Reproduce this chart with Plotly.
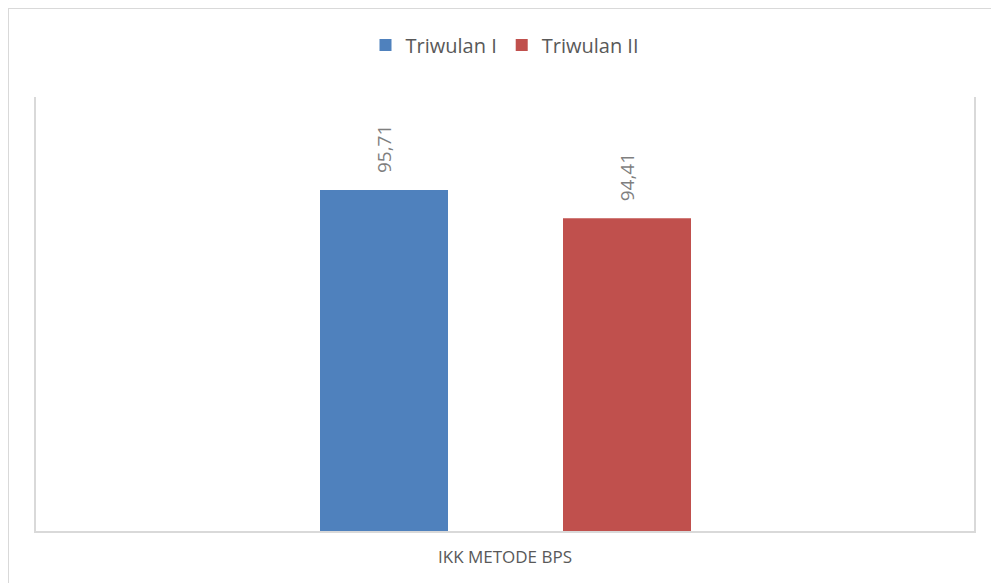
import plotly.graph_objects as go

categories = ["IKK METODE BPS"]
series_names = ["Triwulan I", "Triwulan II"]
values_t1 = [95.71]
values_t2 = [94.41]
labels_t1 = ["95,71"]
labels_t2 = ["94,41"]
colors = ["#4f81bd", "#c0504d"]

# page has an 8px body margin; figure is sized to fit inside the window
W, H = 991, 575
ML, MR, MT, MB = 28, 25, 89, 52
pw = W - ML - MR
ph = H - MT - MB

bar_w = 128 / pw
offsets = [(312 - 497) / pw, (555 - 497) / pw]

fig = go.Figure()
for name, vals, labs, col, off in zip(series_names, [values_t1, values_t2], [labels_t1, labels_t2], colors, offsets):
    fig.add_trace(go.Bar(
        name=name, x=categories, y=vals, marker=dict(color=col, line=dict(width=0)),
        width=bar_w, offset=off, hoverinfo="skip"))
    for c, v, t in zip(categories, vals, labs):
        fig.add_annotation(
            x=c, y=v, text=t, textangle=-90, showarrow=False,
            xref="x", yref="y", xshift=(off + bar_w / 2) * pw, yshift=15,
            yanchor="bottom", font=dict(family="Open Sans", size=19, color="#7f7f7f"))

grey = "#d9d9d9"
fig.update_layout(
    width=W, height=H,
    margin=dict(l=ML, r=MR, t=MT, b=MB),
    paper_bgcolor="white", plot_bgcolor="white",
    barmode="group",
    font=dict(family="Open Sans", color="#595959"),
    legend=dict(orientation="h", x=0.5, xanchor="center", y=(ph + MT - 37) / ph, yanchor="middle",
                font=dict(size=20, color="#595959"), itemclick=False, traceorder="normal"),
    showlegend=True,
    xaxis=dict(showline=True, linecolor=grey, linewidth=2, showgrid=False, zeroline=False,
               tickfont=dict(size=17, color="#595959"), ticks="", ticklabelstandoff=10,
               range=[-0.5, 0.5]),
    yaxis=dict(range=[80, 100], showline=True, mirror=True, linecolor=grey, linewidth=2,
               showgrid=False, zeroline=False, showticklabels=False, ticks=""),
    shapes=[
        dict(type="line", xref="paper", yref="paper",
             x0=(0 - ML) / pw, x1=(W + 10 - ML) / pw,
             y0=(ph + MT - 0) / ph, y1=(ph + MT - 0) / ph,
             line=dict(color=grey, width=2)),
        dict(type="line", xref="paper", yref="paper",
             x0=(0 - ML) / pw, x1=(0 - ML) / pw,
             y0=(ph + MT - 0) / ph, y1=(ph + MT - H - 10) / ph,
             line=dict(color=grey, width=2)),
    ],
)

fig.write_html("out.html")
